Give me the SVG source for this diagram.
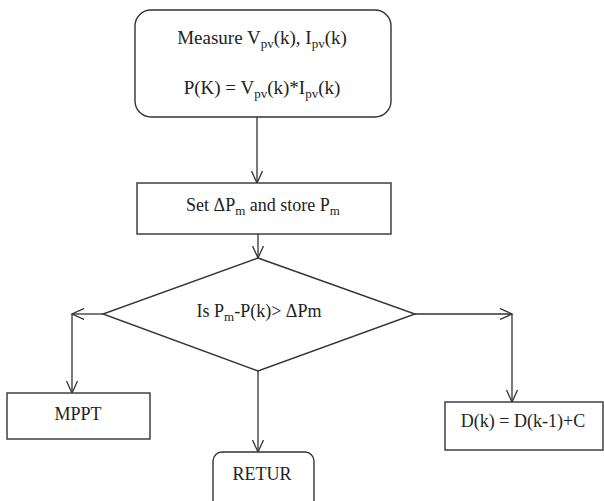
<svg xmlns="http://www.w3.org/2000/svg" width="604" height="501" viewBox="0 0 604 501">
  <style>
    .box { fill: #ffffff; stroke: #333333; stroke-width: 1.4; }
    .conn { fill: none; stroke: #333333; stroke-width: 1.3; }
    .lbl { font-family: "Liberation Serif", "Times New Roman", serif; font-size: 18px; fill: #222222; text-anchor: middle; }
    .big { font-size: 19px; }
    .sub { font-size: 13px; }
  </style>
  <defs>
    <marker id="arr" markerUnits="userSpaceOnUse" markerWidth="14" markerHeight="12" refX="12" refY="6" orient="auto">
      <path d="M0,0.5 L12,6 L0,11.5" fill="none" stroke="#333333" stroke-width="1.3"/>
    </marker>
  </defs>
  <rect width="604" height="501" fill="#ffffff"/>

  <g id="connectors">
    <line class="conn" x1="257" y1="117" x2="257" y2="183" marker-end="url(#arr)"/>
    <line class="conn" x1="258" y1="234" x2="258" y2="258" marker-end="url(#arr)"/>
    <line class="conn" x1="103" y1="314" x2="72" y2="314" marker-end="url(#arr)"/>
    <line class="conn" x1="72" y1="314" x2="72" y2="393" marker-end="url(#arr)"/>
    <line class="conn" x1="415" y1="314" x2="512" y2="314" marker-end="url(#arr)"/>
    <line class="conn" x1="512" y1="314" x2="512" y2="402" marker-end="url(#arr)"/>
    <line class="conn" x1="258" y1="371" x2="258" y2="452" marker-end="url(#arr)"/>
  </g>

  <g id="measure">
    <rect class="box" x="135" y="10" width="256" height="107" rx="16" ry="16"/>
    <text class="lbl big" x="262" y="44">Measure V<tspan class="sub" dy="4">pv</tspan><tspan dy="-4">(k), I</tspan><tspan class="sub" dy="4">pv</tspan><tspan dy="-4">(k)</tspan></text>
    <text class="lbl big" x="262" y="94">P(K) = V<tspan class="sub" dy="4">pv</tspan><tspan dy="-4">(k)*I</tspan><tspan class="sub" dy="4">pv</tspan><tspan dy="-4">(k)</tspan></text>
  </g>

  <g id="set">
    <rect class="box" x="137" y="183" width="254" height="51"/>
    <text class="lbl" x="263" y="211">Set ΔP<tspan class="sub" dy="4">m</tspan><tspan dy="-4"> and store P</tspan><tspan class="sub" dy="4">m</tspan></text>
  </g>

  <g id="decision">
    <polygon class="box" points="258,258 415,314 258,371 103,314"/>
    <text class="lbl" x="259" y="317">Is P<tspan class="sub" dy="4">m</tspan><tspan dy="-4">-P(k)&gt; ΔPm</tspan></text>
  </g>

  <g id="mppt">
    <rect class="box" x="7" y="393" width="143" height="46"/>
    <text class="lbl" x="78" y="420">MPPT</text>
  </g>

  <g id="duty">
    <rect class="box" x="445" y="402" width="158" height="48"/>
    <text class="lbl" x="523" y="427">D(k) = D(k-1)+C</text>
  </g>

  <g id="retur">
    <rect class="box" x="213" y="452" width="101" height="60" rx="9" ry="9"/>
    <text class="lbl" x="262" y="480">RETUR</text>
  </g>
</svg>
